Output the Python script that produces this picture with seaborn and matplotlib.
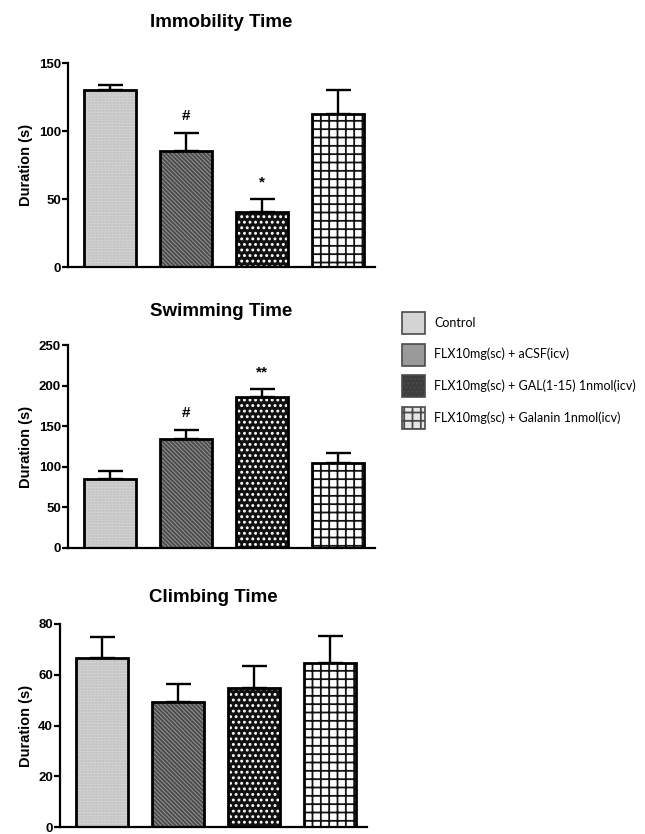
import matplotlib
matplotlib.use("Agg")
import matplotlib.pyplot as plt
import matplotlib.patches as mpatches
import seaborn as sns
import numpy as np
import pandas as pd

# Treatment groups
groups = ["Control", "FLX10mg(sc) + aCSF(icv)",
          "FLX10mg(sc) + GAL(1-15) 1nmol(icv)", "FLX10mg(sc) + Galanin 1nmol(icv)"]

# Mean durations (s) and SEM for each behaviour
immobility_mean = [130, 85, 40.5, 112.5]
immobility_sem = [3.5, 13.5, 9.5, 17.5]
immobility_marks = ["", "#", "*", ""]

swimming_mean = [85, 134.5, 186.5, 104.5]
swimming_sem = [9.5, 11, 9.5, 12.5]
swimming_marks = ["", "#", "**", ""]

climbing_mean = [66.5, 49.3, 54.8, 64.7]
climbing_sem = [8.4, 7.1, 8.8, 10.5]
climbing_marks = ["", "", "", ""]

titles = ["Immobility Time", "Swimming Time", "Climbing Time"]
y_ticks = [[0, 50, 100, 150], [0, 50, 100, 150, 200, 250], [0, 20, 40, 60, 80]]

# fill, hatch pattern, hatch colour for each group
face_colors = ["#dadada", "#8e8e8e", "#111111", "#ffffff"]
hatches = ["......", "\\\\\\\\\\\\\\\\", "...", "++"]
hatch_colors = ["#b8b8b8", "#4a4a4a", "#ffffff", "#111111"]

sns.set_theme(style="ticks")
plt.rcParams["font.family"] = ["Liberation Sans", "DejaVu Sans"]
plt.rcParams["font.weight"] = "bold"
plt.rcParams["hatch.linewidth"] = 1.3
for key in ["text.color", "axes.labelcolor", "xtick.color", "ytick.color"]:
    plt.rcParams[key] = "black"

fig = plt.figure(figsize=(6.45, 8.34), dpi=100)
W, H = 645.0, 834.0

# axes boxes in pixels: left, top, right, bottom
boxes = [(68, 63, 375, 267), (68, 345, 375, 548), (60, 624, 367, 827)]
title_pads = [26, 21, 16]

panels = [
    (immobility_mean, immobility_sem, immobility_marks),
    (swimming_mean, swimming_sem, swimming_marks),
    (climbing_mean, climbing_sem, climbing_marks),
]

for k, ((means, sems, marks), box) in enumerate(zip(panels, boxes)):
    l, t, r, b = box
    ax = fig.add_axes([l / W, 1 - b / H, (r - l) / W, (b - t) / H])
    df = pd.DataFrame({"group": groups, "duration": means})
    sns.barplot(data=df, x="group", y="duration", ax=ax, width=0.68,
                color="white", saturation=1, zorder=2)
    x = np.arange(len(groups))
    ax.errorbar(x, means, yerr=[np.zeros(len(sems)), sems], fmt="none",
                ecolor="black", elinewidth=1.7, capsize=9, capthick=1.7, zorder=1)
    for p, fc, h, hc in zip(ax.patches, face_colors, hatches, hatch_colors):
        p.set_facecolor(fc)
        p.set_hatch(h)
        p.set_edgecolor(hc)
        p.set_linewidth(0)
        outline = mpatches.Rectangle(p.get_xy(), p.get_width(), p.get_height(),
                                     fill=False, edgecolor="black", linewidth=2.0,
                                     zorder=3)
        ax.add_patch(outline)
    for i, (m, s, txt) in enumerate(zip(means, sems, marks)):
        if txt:
            ax.annotate(txt, (i, m + s), xytext=(0, 12), textcoords="offset points",
                        ha="center", va="center", fontsize=11, fontweight="bold")
    ax.set_xlim(-0.55, 3.49)
    ax.set_ylim(0, y_ticks[k][-1])
    ax.set_yticks(y_ticks[k])
    ax.set_xticks([])
    ax.set_xlabel("")
    ax.set_ylabel("Duration (s)", fontsize=10.5, fontweight="bold", labelpad=4)
    ax.set_title(titles[k], fontsize=13.5, fontweight="bold", pad=title_pads[k])
    sns.despine(ax=ax)
    for side in ["left", "bottom"]:
        ax.spines[side].set_linewidth(1.6)
        ax.spines[side].set_color("black")
    ax.tick_params(axis="y", length=4, width=1.6, pad=1, labelsize=9.5,
                   colors="black")
    for lab in ax.get_yticklabels():
        lab.set_fontweight("bold")

# legend for the treatment groups
leg_faces = ["#d4d4d4", "#9a9a9a", "#3c3c3c", "#e6e6e6"]
leg_hatches = ["", "", "....", "++"]
handles = [mpatches.Patch(facecolor=fc, edgecolor="#4a4a4a", hatch=h, linewidth=1.2)
           for fc, h in zip(leg_faces, leg_hatches)]
fig.legend(handles, groups, loc="upper left",
           bbox_to_anchor=(402 / W, 1 - 312 / H), frameon=False,
           prop={"family": ["Lato", "DejaVu Sans"], "size": 9, "weight": "normal"},
           handlelength=1.85, handleheight=2.33, labelspacing=0.77,
           handletextpad=0.75, borderpad=0, borderaxespad=0)

fig.savefig("out.png", dpi=100)
